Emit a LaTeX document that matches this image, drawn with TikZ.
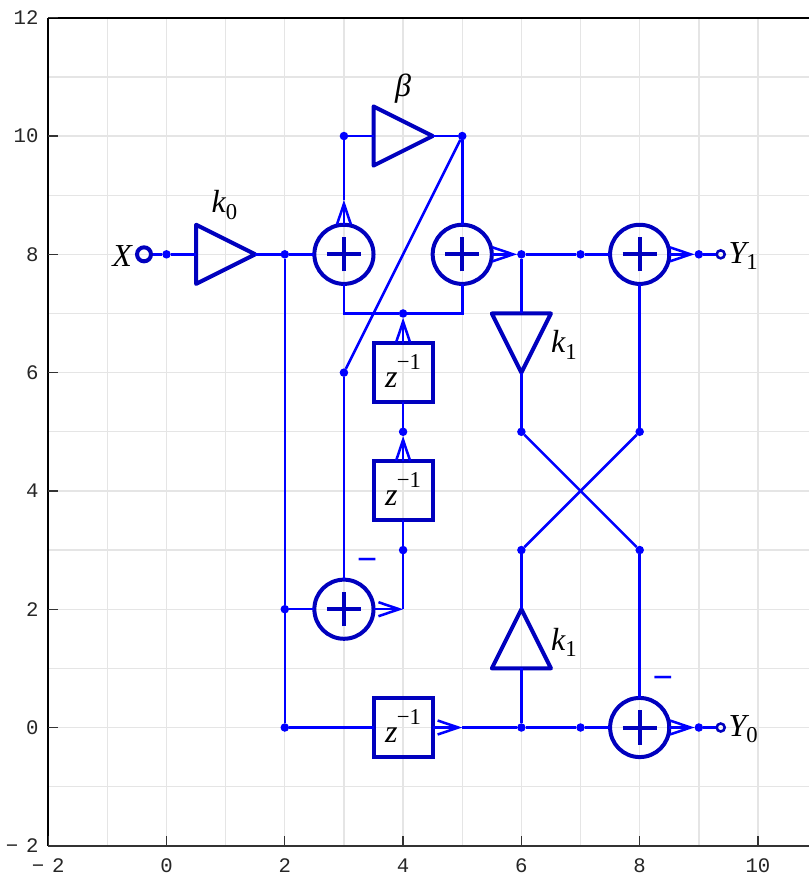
\documentclass[tikz,border=0pt]{standalone}
\usepackage{fontspec}
\setmainfont{Liberation Serif}
\newfontfamily\tickfont{Liberation Mono}
\usetikzlibrary{arrows.meta,shapes.geometric}
\definecolor{wireblue}{RGB}{0,0,255}
\definecolor{darkb}{RGB}{0,0,190}
\definecolor{gridgray}{RGB}{229,229,229}
\newcommand{\mainsz}{\fontsize{24}{24}\selectfont\itshape}
\newcommand{\subsz}{\fontsize{17}{17}\selectfont\upshape}
\newcommand{\lowsub}[1]{\raisebox{-0.45ex}{\subsz #1}}
\newcommand{\zinv}{\mainsz z\kern-.5pt\raisebox{1.25ex}{\subsz −1}}
\newcommand{\negtick}{−\kern-3.5pt\ 2}
\tikzset{
  gridline/.style={draw=gridgray,line width=1pt},
  axisline/.style={draw=black,line width=1.2pt},
  tickline/.style={draw=black!80,line width=1pt},
  ticklabel/.style={font=\tickfont\fontsize{15.5}{15.5}\selectfont,inner sep=0pt,text=black!85},
  wire/.style={draw=wireblue,line width=1.9pt,line join=miter},
  awire/.style={wire,-{Straight Barb[length=15.5pt,width=10.5pt,line width=1.9pt]}},
  dotn/.style={circle,fill=wireblue,inner sep=0pt,minimum size=6.4pt,outer sep=0pt},
  portin/.style={circle,draw=darkb,line width=3pt,inner sep=0pt,minimum size=10.5pt,outer sep=1.5pt},
  portout/.style={circle,draw=darkb,line width=1.9pt,inner sep=0pt,minimum size=6pt,outer sep=.9pt},
  sumn/.style={circle,draw=darkb,line width=3pt,inner sep=0pt,minimum size=44.36pt,outer sep=0pt,
    path picture={\draw[darkb,line width=3pt] (path picture bounding box.center) +(-.29,0) -- +(.29,0)
      (path picture bounding box.center) +(0,-.29) -- +(0,.29);}},
  delayn/.style={rectangle,draw=darkb,line width=3pt,inner sep=0pt,minimum size=44.36pt,outer sep=0pt},
  gainn/.style={isosceles triangle,isosceles triangle stretches,draw=darkb,line width=3pt,line join=round,
    inner sep=0pt,outer sep=0pt,minimum width=44.36pt,minimum height=44.36pt},
  lab/.style={inner sep=0pt,font=\mainsz,text=black},
  minuslab/.style={inner sep=0pt,text=wireblue,font=\fontsize{27}{27}\selectfont\bfseries},
}
\begin{document}
\begin{tikzpicture}[x=44.3625pt,y=44.3625pt]
\useasboundingbox (-2.815,-2.578) rectangle (10.862,12.30);
\begin{scope}
\clip (-2.815,-2.578) rectangle (10.862,12.30);
% grid
\foreach \gx in {-1,...,10} \draw[gridline] (\gx,-2) -- (\gx,12);
\foreach \gy in {-1,...,11} \draw[gridline] (-2,\gy) -- (10.862,\gy);
% axes
\draw[axisline] (-2,-2) -- (-2,12);
\draw[axisline] (-2,12) -- (10.862,12);
\draw[axisline,draw=black!80] (-2,-2) -- (10.862,-2);
\foreach \tx in {-2,0,2,4,6,8,10} \draw[tickline] (\tx,-2) -- (\tx,-1.83);
\foreach \ty in {-2,0,2,4,6,8,10,12} \draw[tickline] (-2,\ty) -- (-1.83,\ty);
\end{scope}
% tick labels
\foreach \tx in {0,2,4,6,8,10} \node[ticklabel] (xl\tx) at (\tx,-2.33) {\tx};
\node[ticklabel] (xlm) at (-2,-2.33) {\negtick};
\foreach \ty in {0,2,4,6,8,10,12} \node[ticklabel,anchor=east] (yl\ty) at (-2.16,\ty) {\ty};
\node[ticklabel,anchor=east] (ylm) at (-2.16,-2) {\negtick};
% ports and dots
\node[portin] (x) at (-0.38,8) {};
\node[portout] (y1) at (9.37,8) {};
\node[portout] (y0) at (9.37,0) {};
\foreach \n/\p in {d00/{0,8},d28/{2,8},d22/{2,2},d20/{2,0},d310/{3,10},d510/{5,10},d68/{6,8},d78/{7,8},d98/{9,8},
  d47/{4,7},d36/{3,6},d45/{4,5},d43/{4,3},d65/{6,5},d85/{8,5},d63/{6,3},d83/{8,3},d60/{6,0},d70/{7,0},d90/{9,0}}
  \node[dotn] (\n) at (\p) {};
% sums
\node[sumn] (s38) at (3,8) {};
\node[sumn] (s58) at (5,8) {};
\node[sumn] (s88) at (8,8) {};
\node[sumn] (s32) at (3,2) {};
\node[sumn] (s80) at (8,0) {};
% delays
\node[delayn] (z6) at (4,6) {};
\node[delayn] (z4) at (4,4) {};
\node[delayn] (z0) at (4,0) {};
% gains
\node[gainn,shape border rotate=0,anchor=apex] (g0) at (1.5,8) {};
\node[gainn,shape border rotate=0,anchor=apex] (gb) at (4.5,10) {};
\node[gainn,shape border rotate=-90,anchor=apex] (gd) at (6,6) {};
\node[gainn,shape border rotate=90,anchor=apex] (gu) at (6,2) {};
% free corners and arrow ends
\coordinate (c37) at (3,7);
\coordinate (c57) at (5,7);
\coordinate (c42) at (4,2);
\coordinate (t39) at (3,8.92);
\coordinate (t50) at (5,0);
% wires
\draw[wire] (x) -- (d00);
\draw[wire] (d00) -- (g0.lower side);
\draw[wire] (g0.apex) -- (d28);
\draw[wire] (d28) -- (s38);
\draw[wire] (d28) -- (d22);
\draw[wire] (d22) -- (d20);
\draw[wire] (d22) -- (s32);
\draw[wire] (d20) -- (z0);
\draw[awire] (z0) -- (t50);
\draw[wire] (t50) -- (d60);
\draw[wire] (d60) -- (d70);
\draw[wire] (d70) -- (s80);
\draw[awire] (s80) -- (d90);
\draw[wire] (d90) -- (y0);
\draw[awire] (s32) -- (c42);
\draw[wire] (c42) -- (d43);
\draw[wire] (d43) -- (z4);
\draw[awire] (z4) -- (d45);
\draw[wire] (d45) -- (z6);
\draw[awire] (z6) -- (d47);
\draw[wire] (s38.south) -- (c37) -- (d47);
\draw[wire] (d47) -- (c57) -- (s58.south);
\draw[awire] (s38.north) -- (t39);
\draw[wire] (t39) -- (d310);
\draw[wire] (d310) -- (gb.lower side);
\draw[wire] (gb.apex) -- (d510);
\draw[wire] (d510) -- (s58);
\draw[wire] (d510) -- (d36);
\draw[wire] (d36) -- (s32);
\draw[awire] (s58) -- (d68);
\draw[wire] (d68) -- (d78);
\draw[wire] (d78) -- (s88);
\draw[awire] (s88) -- (d98);
\draw[wire] (d98) -- (y1);
\draw[wire] (d68) -- (gd.lower side);
\draw[wire] (gd.apex) -- (d65);
\draw[wire] (d65) -- (d83);
\draw[wire] (d85) -- (d63);
\draw[wire] (s88) -- (d85);
\draw[wire] (d83) -- (s80);
\draw[wire] (d63) -- (gu.apex);
\draw[wire] (gu.lower side) -- (d60);
% labels
\node[lab] (lx) at (-0.75,7.97) {X};
\node[lab] (lk0) at (0.98,8.83) {k\lowsub{0}};
\node[lab] (lb) at (4.0,10.8) {β};
\node[lab,anchor=west] (lk1a) at (6.5,6.47) {k\lowsub{1}};
\node[lab,anchor=west] (lk1b) at (6.5,1.44) {k\lowsub{1}};
\node[lab,anchor=west] (ly1) at (9.5,7.97) {Y\lowsub{1}};
\node[lab,anchor=west] (ly0) at (9.5,-0.03) {Y\lowsub{0}};
\node[lab] (lz6) at (4,6.03) {\zinv};
\node[lab] (lz4) at (4,4.03) {\zinv};
\node[lab] (lz0) at (4,0.03) {\zinv};
\node[minuslab] (m1) at (3.39,2.75) {−};
\node[minuslab] (m2) at (8.39,0.75) {−};
\end{tikzpicture}
\end{document}
